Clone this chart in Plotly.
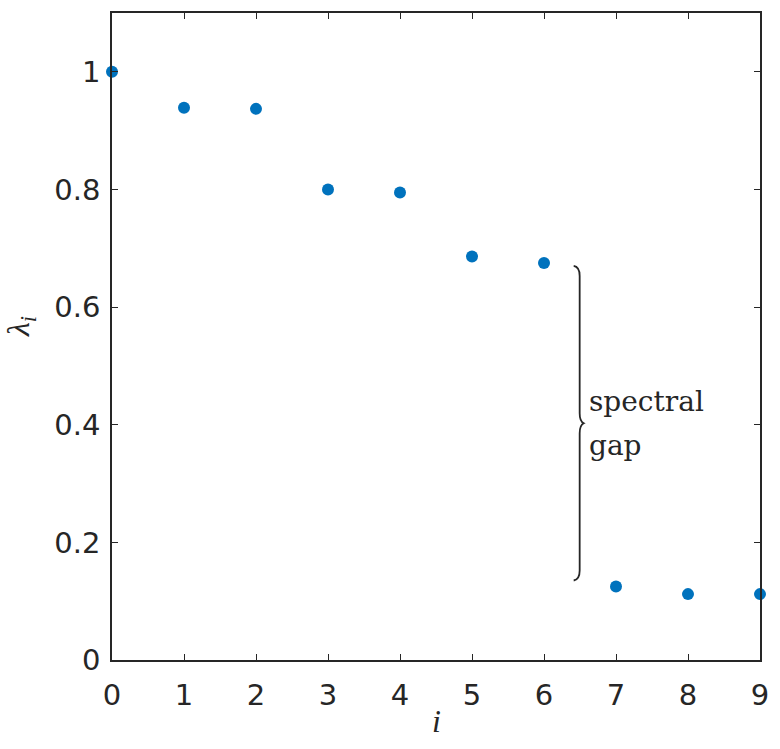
import plotly.graph_objects as go

idx = [0, 1, 2, 3, 4, 5, 6, 7, 8, 9]
lam = [1.0, 0.939, 0.937, 0.800, 0.795, 0.686, 0.675, 0.125, 0.112, 0.112]
yticks = [0, 0.2, 0.4, 0.6, 0.8, 1]
yticklabels = ["0", "0.2", "0.4", "0.6", "0.8", "1"]
xticks = idx

W, H = 780, 749
ml, mr, mt, mb = 112, 18, 11, 89
xr = [0, 9]
yr = [0, 1.1]
sx = (xr[1] - xr[0]) / (W - ml - mr)   # data per px
sy = (yr[1] - yr[0]) / (H - mt - mb)

fig = go.Figure()
fig.add_trace(go.Scatter(x=idx, y=lam, mode="markers",
                         marker=dict(color="#0072BD", size=12), cliponaxis=False))

# brace between point 6 and point 7
xb = 6.44
ytop = lam[6] - 3 * sy
ybot = lam[7] + 6 * sy
ymid = (ytop + ybot) / 2
def X(dpx): return xb + dpx * sx
def Y(y, dpx): return y - dpx * sy
path = (f"M {X(-2)} {ytop} Q {X(4)} {Y(ytop,1)} {X(4)} {Y(ytop,10)} "
        f"L {X(4)} {Y(ymid,-10)} Q {X(4)} {Y(ymid,-2)} {X(8)} {ymid} "
        f"Q {X(4)} {Y(ymid,2)} {X(4)} {Y(ymid,10)} "
        f"L {X(4)} {Y(ybot,-10)} Q {X(4)} {Y(ybot,-1)} {X(-2)} {ybot}")
fig.add_shape(type="path", path=path, xref="x", yref="y",
              line=dict(color="#262626", width=1.8))
serif = dict(family="DejaVu Serif, Liberation Serif", size=28, color="#262626")
fig.add_annotation(x=X(11), y=Y(ymid, -22), xref="x", yref="y", text="spectral",
                   showarrow=False, xanchor="left", yanchor="middle", font=serif)
fig.add_annotation(x=X(11), y=Y(ymid, 22), xref="x", yref="y", text="gap",
                   showarrow=False, xanchor="left", yanchor="middle", font=serif)

axcommon = dict(showgrid=False, zeroline=False, showline=True, linecolor="#262626",
                linewidth=1.5, mirror="ticks", ticks="inside", ticklen=6,
                tickcolor="#262626", tickwidth=1.2,
                tickfont=dict(family="DejaVu Sans", size=29, color="#262626"))
fig.update_xaxes(range=xr, tickvals=xticks, ticktext=[str(v) for v in xticks],
                 ticklabelstandoff=8, **axcommon)
fig.update_yaxes(range=yr, tickvals=yticks, ticktext=yticklabels,
                 ticklabelstandoff=4, **axcommon)

fig.add_annotation(x=0.5, y=-0.095, xref="paper", yref="paper", text="<i>i</i>",
                   showarrow=False, yanchor="middle",
                   font=dict(family="Liberation Serif", size=32, color="#262626"))
fig.add_annotation(x=-0.14, y=0.515, xref="paper", yref="paper",
                   text="<i>λ</i><sub><i>i</i></sub>", textangle=-90,
                   showarrow=False, xanchor="center", yanchor="middle",
                   font=dict(family="Liberation Serif", size=32, color="#262626"))

fig.update_layout(width=W, height=H, margin=dict(l=ml, r=mr, t=mt, b=mb),
                  plot_bgcolor="white", paper_bgcolor="white", showlegend=False)
fig.write_html("out.html")
